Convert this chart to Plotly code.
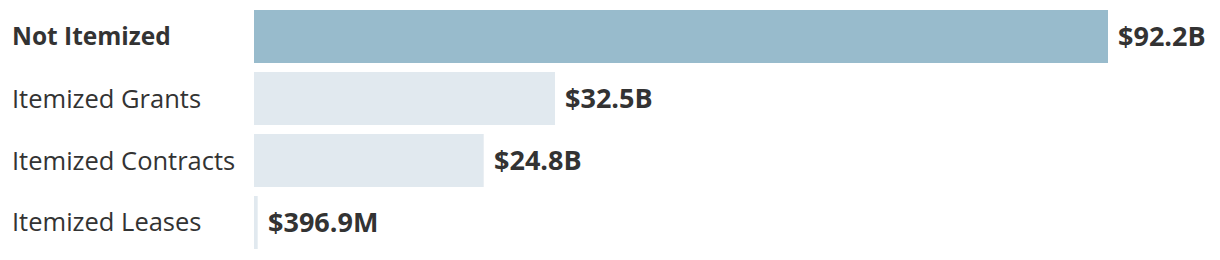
import plotly.graph_objects as go

categories = ["Not Itemized", "Itemized Grants", "Itemized Contracts", "Itemized Leases"]
values = [92.2, 32.5, 24.8, 0.3969]  # billions of dollars
value_labels = ["$92.2B", "$32.5B", "$24.8B", "$396.9M"]
bar_colors = ["#98bbcc", "#e1e9ef", "#e1e9ef", "#e1e9ef"]
label_bold = [True, False, False, False]

TEXT = "#333333"
FONT = "Open Sans"

fig = go.Figure()
fig.add_trace(go.Bar(
    x=values,
    y=list(range(len(categories))),
    orientation="h",
    marker=dict(color=bar_colors, line=dict(width=0)),
    width=0.855,
    hoverinfo="skip",
))

annotations = []
for i, (cat, val, lab, b) in enumerate(zip(categories, values, value_labels, label_bold)):
    annotations.append(dict(
        x=0, xref="paper", y=i, yref="y",
        xanchor="left", yanchor="middle", xshift=-244, yshift=1,
        text=f"<b>{cat}</b>" if b else cat,
        showarrow=False,
        font=dict(family=FONT, size=24.5 if b else 25.5, color=TEXT),
    ))
    annotations.append(dict(
        x=val, xref="x", y=i, yref="y",
        xanchor="left", yanchor="middle", xshift=8, yshift=1,
        text=f"<b>{lab}</b>",
        showarrow=False,
        font=dict(family=FONT, size=27, color=TEXT),
    ))

fig.update_layout(
    width=1220, height=260,
    margin=dict(l=254, r=0, t=0, b=0),
    paper_bgcolor="white", plot_bgcolor="white",
    showlegend=False,
    xaxis=dict(range=[0, 92.2 * 966 / 854], visible=False, fixedrange=True),
    yaxis=dict(range=[3.605, -0.589], visible=False, fixedrange=True),
    annotations=annotations,
)

fig.write_html("out.html", config={"displayModeBar": False})
